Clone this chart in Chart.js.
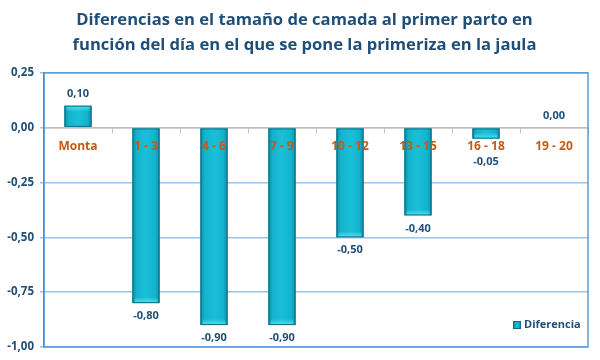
<!DOCTYPE html>
<html>
<head>
<meta charset="utf-8">
<script src="https://cdn.jsdelivr.net/npm/chart.js@4.4.1/dist/chart.umd.min.js"></script>
<style>
html,body{margin:0;padding:0;background:#fff;}
#wrap{width:600px;height:360px;position:relative;}
</style>
</head>
<body>
<div id="wrap"><canvas id="c" width="600" height="360"></canvas></div>
<script>
const categories = ['Monta', '1 - 3', '4 - 6', '7 - 9', '10 - 12', '13 - 15', '16 - 18', '19 - 20'];
const diferencia = [0.10, -0.80, -0.90, -0.90, -0.50, -0.40, -0.05, 0.00];
const yTicks = [0.25, 0, -0.25, -0.5, -0.75, -1.0];
const seriesName = 'Diferencia';
const titleLines = ['Diferencias en el tamaño de camada al primer parto en', 'función del día en el que se pone la primeriza en la jaula'];

const FONT = "'Open Sans', 'DejaVu Sans', sans-serif";
const DARK = '#1F4E79';
const fmt = v => v.toFixed(2).replace('.', ',');

const decorPlugin = {
  id: 'decor',
  beforeDraw(chart) {
    // centre the title a little to the right, as in the original
    if (chart.titleBlock) chart.titleBlock.left = 21;
  },
  beforeDatasetsDraw(chart) {
    const {ctx, chartArea: a} = chart;
    ctx.save();
    ctx.strokeStyle = '#5B9BD5';
    ctx.lineWidth = 1.5;
    ctx.strokeRect(a.left, a.top, a.right - a.left, a.bottom - a.top);
    ctx.restore();
  },
  afterDatasetsDraw(chart) {
    const {ctx} = chart;
    const meta = chart.getDatasetMeta(0);
    const yScale = chart.scales.y;
    const zero = yScale.getPixelForValue(0);
    ctx.save();
    meta.data.forEach((bar, i) => {
      const p = bar.getProps(['x', 'y', 'base', 'width'], true);
      const l = p.x - p.width / 2, r = p.x + p.width / 2;
      const t = Math.min(p.y, p.base), b = Math.max(p.y, p.base);
      if (b - t > 0.5) {
        const g = ctx.createLinearGradient(l, 0, r, 0);
        g.addColorStop(0, '#0A8AA2');
        g.addColorStop(0.15, '#14B2CC');
        g.addColorStop(0.5, '#1ABFD9');
        g.addColorStop(0.85, '#14B2CC');
        g.addColorStop(1, '#0A8AA2');
        ctx.fillStyle = g;
        ctx.fillRect(l, t, r - l, b - t);
        const pos = diferencia[i] >= 0;
        const endY = pos ? t : b;
        const h = Math.min(6, b - t);
        const g2 = ctx.createLinearGradient(0, endY, 0, pos ? endY + h : endY - h);
        g2.addColorStop(0, 'rgba(90,230,245,0.9)');
        g2.addColorStop(1, 'rgba(90,230,245,0)');
        ctx.fillStyle = g2;
        if (pos) ctx.fillRect(l + 2, t, r - l - 4, h);
        else ctx.fillRect(l + 2, b - h, r - l - 4, h);
        ctx.strokeStyle = '#0B6F82';
        ctx.lineWidth = 1;
        ctx.strokeRect(l + 0.5, t + 0.5, r - l - 1, b - t - 1);
      }
      const v = diferencia[i];
      ctx.fillStyle = DARK;
      ctx.font = "bold 11px " + FONT;
      ctx.textAlign = 'center';
      ctx.textBaseline = 'middle';
      let ly;
      if (v >= 0) ly = p.y - 12;
      else ly = Math.max(p.y + 13, zero + 34);
      ctx.fillText(fmt(v), p.x, ly);
    });
    // legend
    const lx = 513, lyc = 325;
    const lg = ctx.createLinearGradient(lx, 0, lx + 8, 0);
    lg.addColorStop(0, '#0A8AA2'); lg.addColorStop(0.5, '#1ABFD9'); lg.addColorStop(1, '#0A8AA2');
    ctx.fillStyle = lg;
    ctx.fillRect(lx, lyc - 4, 8, 8);
    ctx.strokeStyle = '#0B6F82';
    ctx.lineWidth = 1;
    ctx.strokeRect(lx + 0.5, lyc - 3.5, 7, 7);
    ctx.fillStyle = DARK;
    ctx.font = "bold 11px " + FONT;
    ctx.textAlign = 'left';
    ctx.fillText(chart.data.datasets[0].label, lx + 11, lyc);
    ctx.restore();
  }
};

new Chart(document.getElementById('c'), {
  type: 'bar',
  data: {
    labels: categories,
    datasets: [{
      label: seriesName,
      data: diferencia,
      backgroundColor: 'rgba(0,0,0,0)',
      borderWidth: 0,
      barPercentage: 0.4,
      categoryPercentage: 1.0
    }]
  },
  options: {
    responsive: false,
    animation: false,
    layout: {padding: {left: 0, right: 12, top: 0, bottom: 13}},
    plugins: {
      legend: {display: false},
      tooltip: {enabled: false},
      title: {
        display: true,
        text: titleLines,
        color: DARK,
        font: {family: FONT, size: 16.6, weight: 'bold', lineHeight: 1.5},
        padding: {top: 8, bottom: 15}
      }
    },
    scales: {
      x: {
        position: {y: 0},
        offset: true,
        grid: {display: true, drawOnChartArea: false, drawTicks: true, tickLength: 5, color: '#BFBFBF', offset: true},
        border: {display: true, color: '#BFBFBF', width: 1.5},
        ticks: {color: '#C55A11', font: {family: FONT, size: 12, weight: 'bold'}, padding: 7, z: 1}
      },
      y: {
        min: -1, max: 0.25,
        afterBuildTicks(scale) { scale.ticks = yTicks.map(v => ({value: v})); },
        afterFit(scale) { scale.width = 44; },
        grid: {
          color: ctx => (ctx.tick && ctx.tick.value === 0) ? '#BFBFBF' : '#9DC3E6',
          lineWidth: 1.5,
          tickLength: 4,
          drawTicks: true
        },
        border: {display: true, color: '#2E75B6', width: 1.5},
        ticks: {
          color: DARK,
          font: {family: FONT, size: 11.5, weight: 'bold'},
          padding: 6,
          callback: v => fmt(v)
        }
      }
    }
  },
  plugins: [decorPlugin]
});
</script>
</body>
</html>
